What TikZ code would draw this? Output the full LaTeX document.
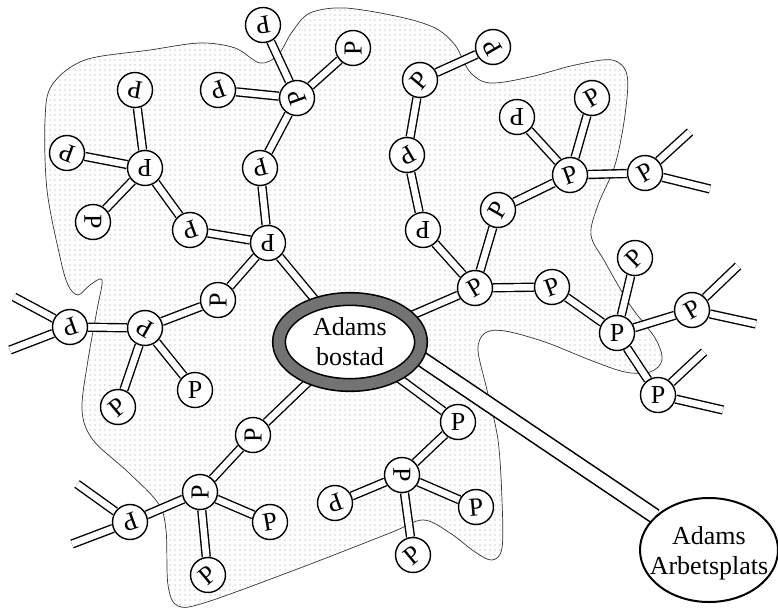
\documentclass[tikz,border=0pt]{standalone}
\usepackage{fontspec}
\setmainfont{Liberation Serif}
\usetikzlibrary{shapes.geometric,patterns}
\pgfdeclarelayer{bg}
\pgfdeclarelayer{edges}
\pgfsetlayers{bg,edges,main}
\pgfdeclarepatternformonly{sparsedots}{\pgfqpoint{-1pt}{-1pt}}{\pgfqpoint{1pt}{1pt}}{\pgfqpoint{5pt}{5pt}}{\pgfpathcircle{\pgfqpoint{0pt}{0pt}}{0.55pt}\pgfusepath{fill}}
\tikzset{
  pn/.style={circle, draw, line width=1.4pt, fill=white, minimum size=35pt, inner sep=0pt},
  dbl/.style={draw, line width=1.4pt, double=white, double distance=6.5pt},
  wide/.style={draw, line width=1.6pt, double=white, double distance=13pt},
  blob/.style={draw=black!80, line width=0.7pt, pattern=sparsedots, pattern color=black!40}
}
\begin{document}
\begin{tikzpicture}[x=1pt, y=-1pt, font=\fontsize{26}{30}\selectfont]
\useasboundingbox (0,0) rectangle (778,610);

% central and work nodes
\node[ellipse, draw=black, line width=1.6pt, double=black!55, double distance=11pt, fill=white,
      minimum width=142pt, minimum height=86pt, inner sep=0pt, align=center] (bo) at (350,342) {Adams\\bostad};
\node[ellipse, draw, line width=2pt, fill=white, minimum width=138pt, minimum height=104pt, inner sep=0pt] (ap) at (709,550) {};
\node[align=center, inner sep=0pt] (apt) at (709,553) {Adams\\Arbetsplats};

% P nodes
\node[pn, rotate=190] (n1) at (263,25) {P};
\node[pn, rotate=90] (n2) at (353,48) {P};
\node[pn, rotate=200] (n3) at (218,90) {P};
\node[pn, rotate=110] (n4) at (297,98) {P};
\node[pn, rotate=170] (n5) at (135,90) {P};
\node[pn, rotate=160] (n6) at (67,153) {P};
\node[pn, rotate=180] (n7) at (145,168) {P};
\node[pn, rotate=-90] (n8) at (93,222) {P};
\node[pn, rotate=195] (n9) at (260,168) {P};
\node[pn, rotate=200] (n10) at (190,230) {P};
\node[pn, rotate=180] (n11) at (268,243) {P};
\node[pn, rotate=90] (n12) at (218,300) {P};
\node[pn, rotate=120] (n13) at (493,47) {P};
\node[pn, rotate=50] (n14) at (420,80) {P};
\node[pn, rotate=210] (n15) at (407,155) {P};
\node[pn, rotate=180] (n16) at (423,230) {P};
\node[pn, rotate=180] (n17) at (517,117) {P};
\node[pn, rotate=30] (n18) at (592,98) {P};
\node[pn, rotate=20] (n19) at (570,175) {P};
\node[pn, rotate=30] (n20) at (645,173) {P};
\node[pn, rotate=60] (n21) at (498,210) {P};
\node[pn, rotate=30] (n22) at (475,288) {P};
\node[pn, rotate=20] (n23) at (552,287) {P};
\node[pn, rotate=45] (n24) at (635,258) {P};
\node[pn, rotate=200] (n25) at (70,327) {P};
\node[pn, rotate=150] (n26) at (145,328) {P};
\node[pn, rotate=40] (n27) at (118,407) {P};
\node[pn, rotate=0] (n28) at (195,390) {P};
\node[pn, rotate=90] (n29) at (253,435) {P};
\node[pn, rotate=90] (n30) at (200,492) {P};
\node[pn, rotate=200] (n31) at (130,522) {P};
\node[pn, rotate=10] (n32) at (270,522) {P};
\node[pn, rotate=40] (n33) at (208,575) {P};
\node[pn, rotate=200] (n34) at (335,503) {P};
\node[pn, rotate=0] (n35) at (458,422) {P};
\node[pn, rotate=-90] (n36) at (402,475) {P};
\node[pn, rotate=5] (n37) at (476,507) {P};
\node[pn, rotate=40] (n38) at (413,555) {P};
\node[pn, rotate=0] (n39) at (617,333) {P};
\node[pn, rotate=30] (n40) at (692,310) {P};
\node[pn, rotate=0] (n41) at (658,395) {P};

% free ends
\coordinate (s25a) at (14,297);
\coordinate (s25b) at (10,350);
\coordinate (s31a) at (77,484);
\coordinate (s31b) at (72,544);
\coordinate (s20a) at (690,132);
\coordinate (s20b) at (710,189);
\coordinate (s40a) at (738,266);
\coordinate (s40b) at (756,324);
\coordinate (s41a) at (704,352);
\coordinate (s41b) at (723,410);

\begin{pgfonlayer}{bg}
\draw[blob] plot[smooth cycle, tension=0.55] coordinates {
 (47,190) (45,120) (52,85) (85,60) (150,50) (200,43) (235,48) (260,63) (278,55) (292,32)
 (310,13) (345,8) (400,17) (435,28) (455,45) (470,72) (490,83) (530,77) (575,65) (612,60)
 (627,75) (625,115) (615,165) (598,205) (591,235) (605,262) (630,305) (655,338) (662,360)
 (650,372) (625,372) (590,360) (545,342) (505,331) (485,333) (478,350) (487,390) (498,440)
 (502,500) (502,548) (492,560) (475,552) (450,533) (423,520) (390,533) (300,568) (207,602)
 (178,606) (168,585) (166,530) (158,503) (128,472) (93,440) (82,410) (88,360) (97,310)
 (102,280) (90,285) (78,295) (68,285) (60,257)};
\end{pgfonlayer}

\begin{pgfonlayer}{edges}
\draw[dbl] (n1) -- (n4);
\draw[dbl] (n2) -- (n4);
\draw[dbl] (n3) -- (n4);
\draw[dbl] (n4) -- (n9);
\draw[dbl] (n9) -- (n11);
\draw[dbl] (n5) -- (n7);
\draw[dbl] (n6) -- (n7);
\draw[dbl] (n8) -- (n7);
\draw[dbl] (n7) -- (n10);
\draw[dbl] (n10) -- (n11);
\draw[dbl] (n11) -- (bo);
\draw[dbl] (n11) -- (n12);
\draw[dbl] (n12) -- (n26);
\draw[dbl] (n25) -- (n26);
\draw[dbl] (n26) -- (n27);
\draw[dbl] (n26) -- (n28);
\draw[dbl] (n25) -- (s25a);
\draw[dbl] (n25) -- (s25b);
\draw[dbl] (bo) -- (n29);
\draw[dbl] (n29) -- (n30);
\draw[dbl] (n30) -- (n31);
\draw[dbl] (n30) -- (n32);
\draw[dbl] (n30) -- (n33);
\draw[dbl] (n31) -- (s31a);
\draw[dbl] (n31) -- (s31b);
\draw[dbl] (bo) -- (n35);
\draw[dbl] (n35) -- (n36);
\draw[dbl] (n36) -- (n34);
\draw[dbl] (n36) -- (n37);
\draw[dbl] (n36) -- (n38);
\draw[dbl] (bo) -- (n22);
\draw[dbl] (n22) -- (n16);
\draw[dbl] (n16) -- (n15);
\draw[dbl] (n15) -- (n14);
\draw[dbl] (n14) -- (n13);
\draw[dbl] (n22) -- (n21);
\draw[dbl] (n21) -- (n19);
\draw[dbl] (n19) -- (n17);
\draw[dbl] (n19) -- (n18);
\draw[dbl] (n19) -- (n20);
\draw[dbl] (n20) -- (s20a);
\draw[dbl] (n20) -- (s20b);
\draw[dbl] (n22) -- (n23);
\draw[dbl] (n23) -- (n39);
\draw[dbl] (n39) -- (n24);
\draw[dbl] (n39) -- (n40);
\draw[dbl] (n39) -- (n41);
\draw[dbl] (n40) -- (s40a);
\draw[dbl] (n40) -- (s40b);
\draw[dbl] (n41) -- (s41a);
\draw[dbl] (n41) -- (s41b);
\draw[wide] (bo.-12) -- (ap.148);
\end{pgfonlayer}
\end{tikzpicture}
\end{document}
